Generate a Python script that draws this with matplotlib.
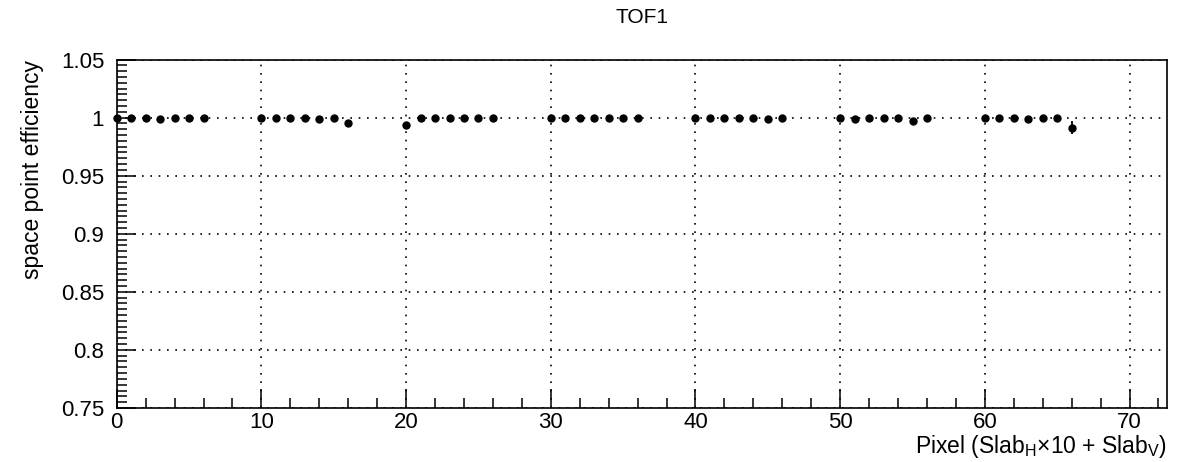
import numpy as np
import matplotlib.pyplot as plt
from matplotlib.ticker import MultipleLocator

plt.rcParams['font.family'] = ['Liberation Sans', 'DejaVu Sans']

# pixel index = SlabH*10 + SlabV
pixels = [0, 1, 2, 3, 4, 5, 6,
          10, 11, 12, 13, 14, 15, 16,
          20, 21, 22, 23, 24, 25, 26,
          30, 31, 32, 33, 34, 35, 36,
          40, 41, 42, 43, 44, 45, 46,
          50, 51, 52, 53, 54, 55, 56,
          60, 61, 62, 63, 64, 65, 66]
efficiency = [1.0, 1.0, 1.0, 0.9985, 1.0, 1.0, 1.0,
              1.0, 1.0, 0.9995, 0.9995, 0.9985, 1.0, 0.9955,
              0.9935, 1.0, 1.0, 1.0, 1.0, 1.0, 1.0,
              1.0, 0.9995, 1.0, 1.0, 1.0, 1.0, 1.0,
              1.0, 1.0, 1.0, 1.0, 0.9995, 0.9985, 1.0,
              1.0, 0.9985, 1.0, 1.0, 0.9995, 0.9975, 1.0,
              1.0, 1.0, 0.9995, 0.9985, 1.0, 1.0, 0.9915]
errors = [0.0005, 0.0005, 0.0005, 0.001, 0.0005, 0.0005, 0.0005,
          0.0005, 0.0005, 0.0005, 0.0005, 0.001, 0.0005, 0.002,
          0.002, 0.0005, 0.0005, 0.0005, 0.0005, 0.0005, 0.0005,
          0.0005, 0.0005, 0.0005, 0.0005, 0.0005, 0.0005, 0.0005,
          0.0005, 0.0005, 0.0005, 0.0005, 0.0005, 0.001, 0.0005,
          0.0005, 0.001, 0.0005, 0.0005, 0.0005, 0.001, 0.0005,
          0.0005, 0.0005, 0.0005, 0.001, 0.0005, 0.0005, 0.006]

fig = plt.figure(figsize=(11.91, 4.62), dpi=100)
ax = fig.add_axes([0.098, 0.117, 0.882, 0.754])

ax.errorbar(pixels, efficiency, yerr=errors, fmt='o', color='black',
            markersize=5, elinewidth=1.3, capsize=0, zorder=3, clip_on=False)

ax.set_xlim(0, 72.6)
ax.set_ylim(0.75, 1.05)
ax.xaxis.set_major_locator(MultipleLocator(10))
ax.xaxis.set_minor_locator(MultipleLocator(2))
ax.yaxis.set_major_locator(MultipleLocator(0.05))
ax.yaxis.set_minor_locator(MultipleLocator(0.005))
ax.set_yticks([0.75, 0.8, 0.85, 0.9, 0.95, 1.0, 1.05])
ax.set_yticklabels(['0.75', '0.8', '0.85', '0.9', '0.95', '1', '1.05'])

ax.tick_params(which='both', direction='in', top=False, right=False,
               labelsize=16, width=1.1)
ax.tick_params(which='major', length=14)
ax.tick_params(which='minor', length=7)
ax.tick_params(axis='x', pad=3)
ax.tick_params(axis='y', pad=9)
ax.grid(True, which='major', linestyle=(0, (1, 4)), color='black', linewidth=1.2)
for s in ax.spines.values():
    s.set_linewidth(1.2)

ax.set_title('TOF1', fontsize=15, pad=26)
ax.set_ylabel('space point efficiency', fontsize=16.5, loc='top', labelpad=12)
ax.set_xlabel(r'Pixel (Slab$_{\mathregular{H}}$×10 + Slab$_{\mathregular{V}}$)',
              fontsize=16.5, loc='right', labelpad=0)

fig.savefig('out.png', dpi=100)
